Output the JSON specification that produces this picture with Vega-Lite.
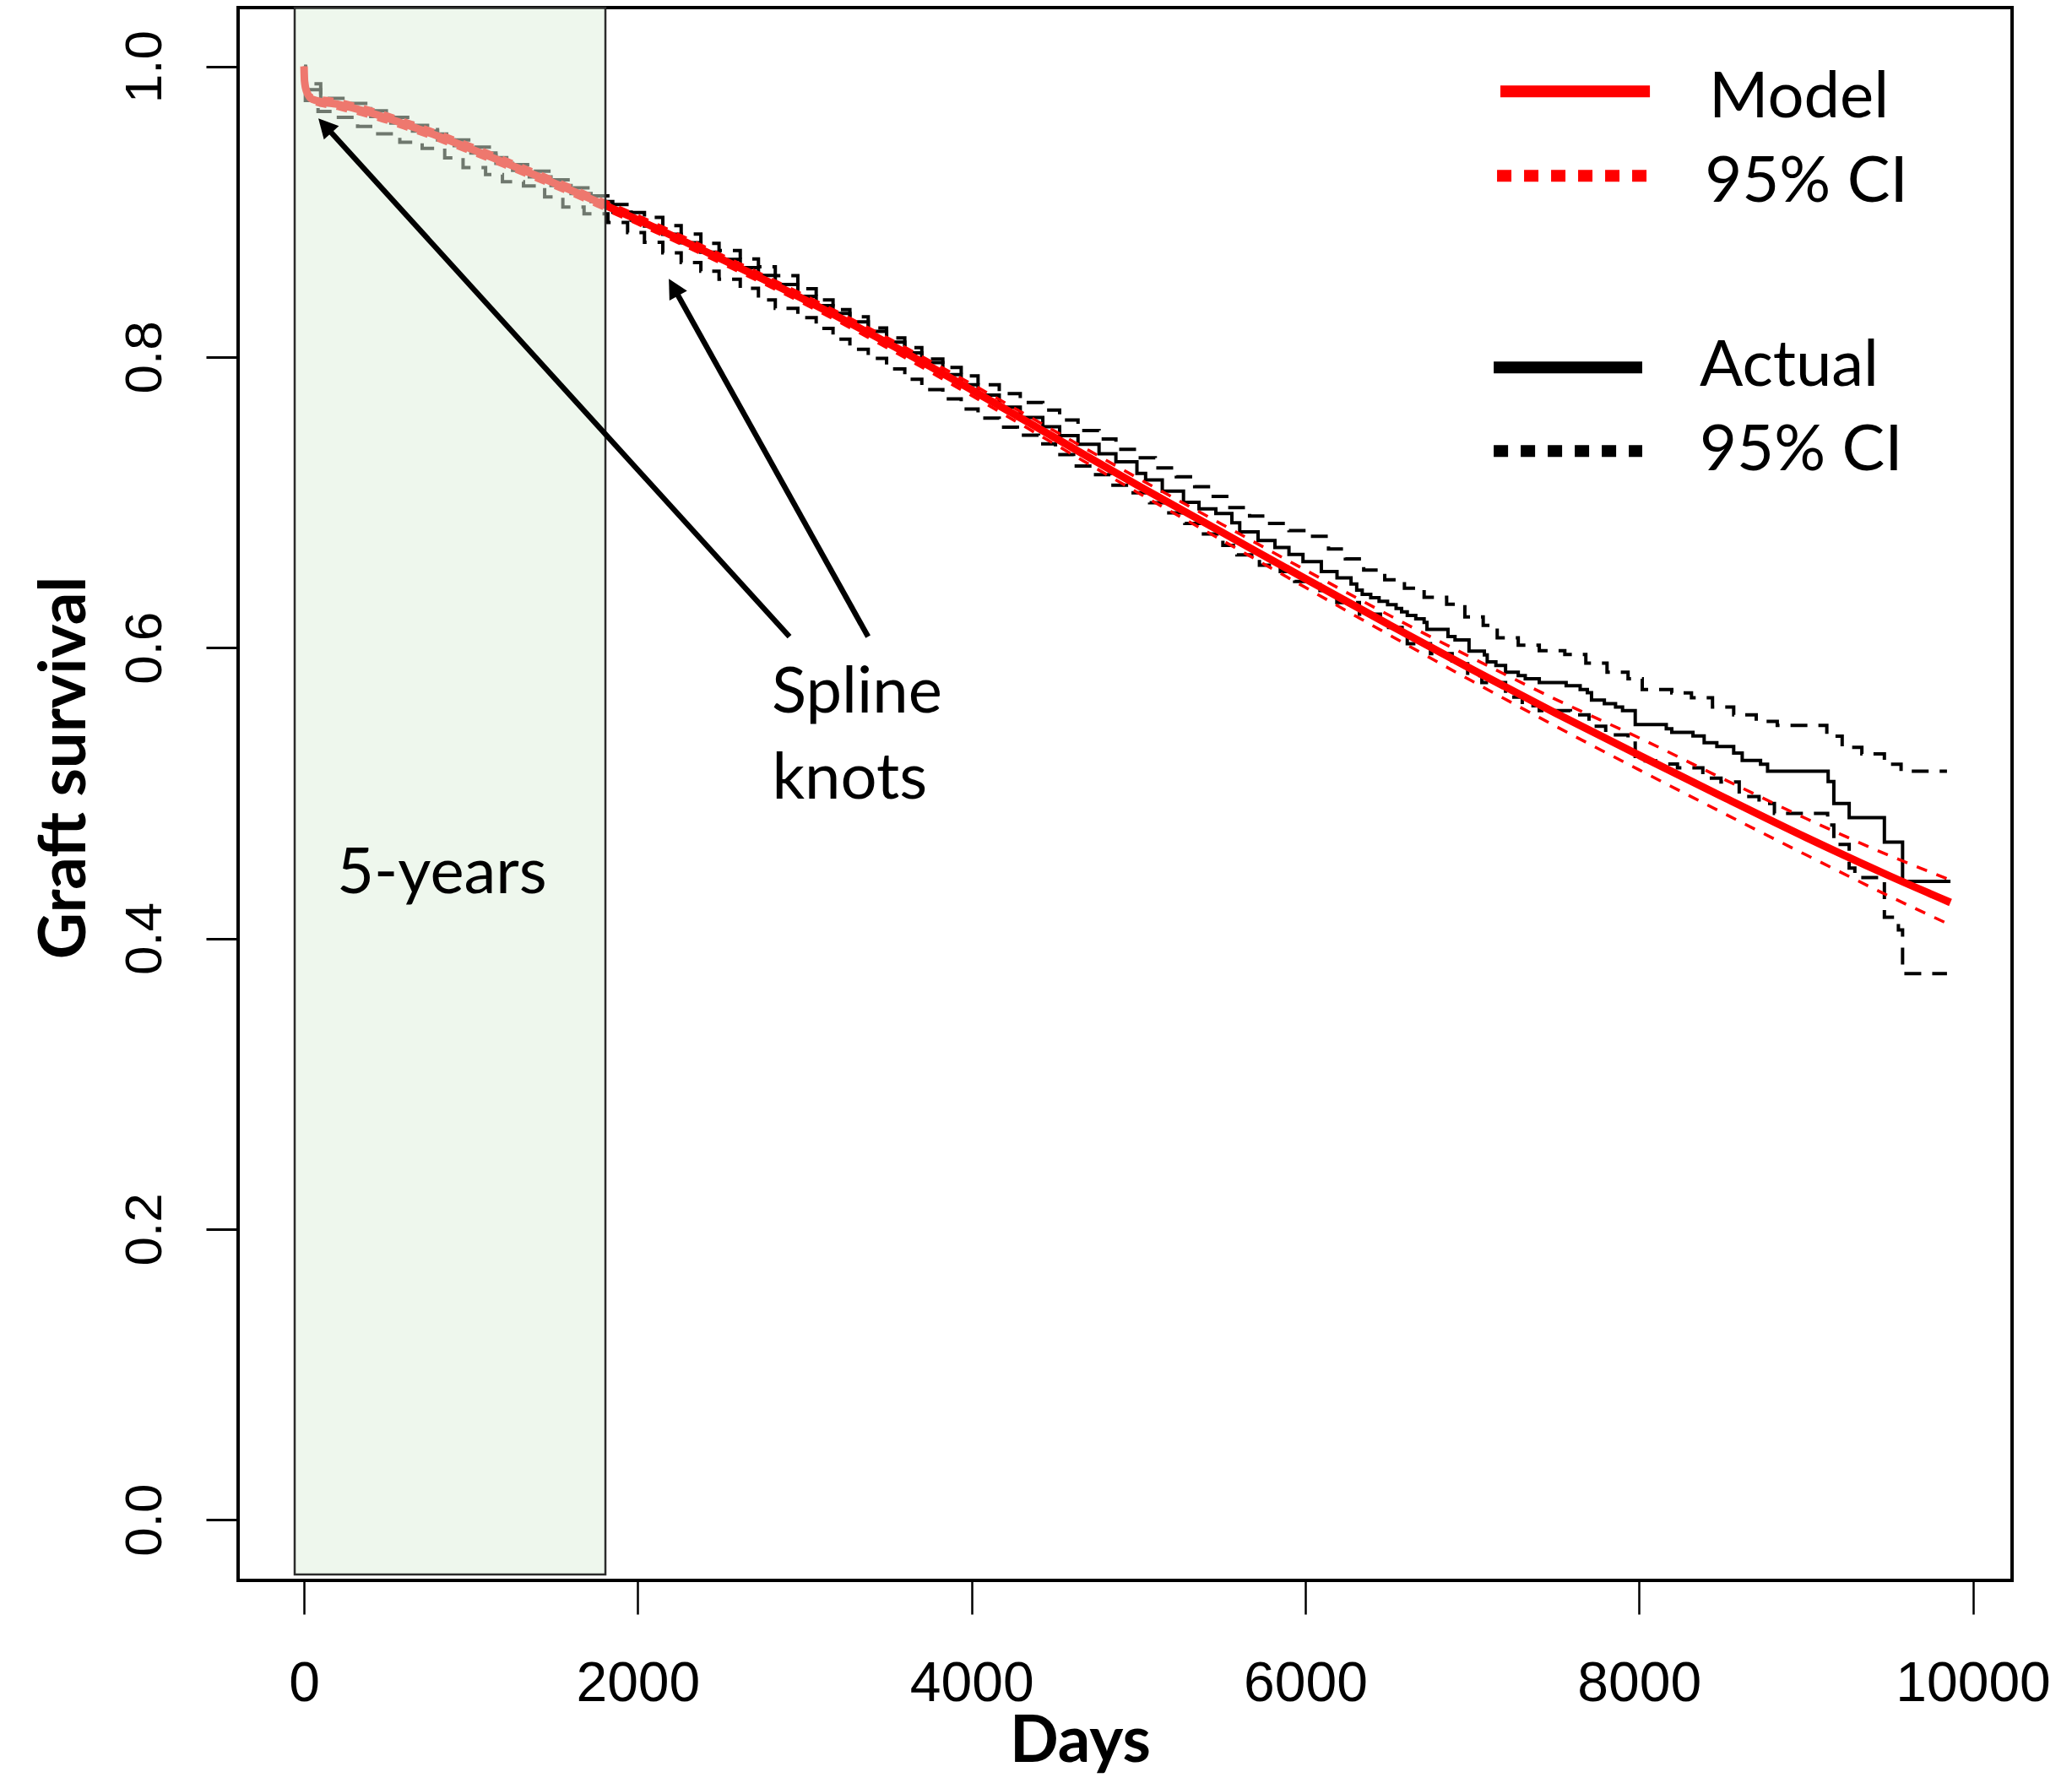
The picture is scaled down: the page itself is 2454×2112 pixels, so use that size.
{
  "$schema": "https://vega.github.io/schema/vega-lite/v6.json",
  "width": 2101,
  "height": 1863,
  "autosize": {"type": "none"},
  "padding": {"left": 282, "top": 9, "right": 71, "bottom": 240},
  "background": "white",
  "config": {
    "view": {"stroke": "#000000", "strokeWidth": 4},
    "axis": {"grid": false, "domain": false, "tickColor": "#000000", "labelColor": "#000000", "titleColor": "#000000"}
  },
  "datasets": {
    "model": [
      {"t": 0, "est": 1.0, "lo": 1.0, "hi": 1.0},
      {"t": 3, "est": 0.99, "lo": 0.988, "hi": 0.992},
      {"t": 15, "est": 0.983, "lo": 0.981, "hi": 0.985},
      {"t": 50, "est": 0.9774, "lo": 0.975, "hi": 0.98},
      {"t": 200, "est": 0.974, "lo": 0.971, "hi": 0.977},
      {"t": 400, "est": 0.968, "lo": 0.965, "hi": 0.971},
      {"t": 600, "est": 0.9605, "lo": 0.9575, "hi": 0.9635},
      {"t": 800, "est": 0.9522, "lo": 0.9492, "hi": 0.9552},
      {"t": 1000, "est": 0.9433, "lo": 0.9403, "hi": 0.9463},
      {"t": 1200, "est": 0.934, "lo": 0.931, "hi": 0.937},
      {"t": 1400, "est": 0.9245, "lo": 0.9215, "hi": 0.9275},
      {"t": 1600, "est": 0.9148, "lo": 0.9118, "hi": 0.9178},
      {"t": 1800, "est": 0.9047, "lo": 0.9017, "hi": 0.9077},
      {"t": 2000, "est": 0.8945, "lo": 0.8915, "hi": 0.8975},
      {"t": 2500, "est": 0.8675, "lo": 0.8645, "hi": 0.8705},
      {"t": 3000, "est": 0.8395, "lo": 0.8365, "hi": 0.8425},
      {"t": 3500, "est": 0.8095, "lo": 0.806, "hi": 0.813},
      {"t": 4000, "est": 0.7775, "lo": 0.7735, "hi": 0.7815},
      {"t": 4500, "est": 0.7445, "lo": 0.74, "hi": 0.749},
      {"t": 5000, "est": 0.7115, "lo": 0.7065, "hi": 0.7165},
      {"t": 5500, "est": 0.6795, "lo": 0.674, "hi": 0.685},
      {"t": 6000, "est": 0.6475, "lo": 0.6415, "hi": 0.6535},
      {"t": 6500, "est": 0.616, "lo": 0.609, "hi": 0.6225},
      {"t": 7000, "est": 0.585, "lo": 0.577, "hi": 0.593},
      {"t": 7500, "est": 0.555, "lo": 0.546, "hi": 0.5645},
      {"t": 8000, "est": 0.526, "lo": 0.516, "hi": 0.538},
      {"t": 8500, "est": 0.4975, "lo": 0.4865, "hi": 0.51},
      {"t": 9000, "est": 0.4695, "lo": 0.4575, "hi": 0.4825},
      {"t": 9500, "est": 0.443, "lo": 0.429, "hi": 0.457},
      {"t": 9866, "est": 0.4247, "lo": 0.4092, "hi": 0.4402}
    ],
    "km_est": [
      {"t": 0, "s": 1.0}, {"t": 8, "s": 0.984}, {"t": 100, "s": 0.9735}, {"t": 250, "s": 0.971},
      {"t": 400, "s": 0.9655}, {"t": 520, "s": 0.961}, {"t": 650, "s": 0.9555}, {"t": 800, "s": 0.9495},
      {"t": 900, "s": 0.9455}, {"t": 1000, "s": 0.9405}, {"t": 1150, "s": 0.9333}, {"t": 1250, "s": 0.9285},
      {"t": 1350, "s": 0.924}, {"t": 1480, "s": 0.918}, {"t": 1600, "s": 0.9125}, {"t": 1720, "s": 0.907},
      {"t": 1850, "s": 0.8997}, {"t": 1960, "s": 0.8942}, {"t": 2040, "s": 0.8902}, {"t": 2150, "s": 0.8845},
      {"t": 2260, "s": 0.8787}, {"t": 2378, "s": 0.8722}, {"t": 2487, "s": 0.8673}, {"t": 2614, "s": 0.8615},
      {"t": 2723, "s": 0.8562}, {"t": 2824, "s": 0.85}, {"t": 2959, "s": 0.8418}, {"t": 3069, "s": 0.8354},
      {"t": 3170, "s": 0.83}, {"t": 3271, "s": 0.8243}, {"t": 3381, "s": 0.8177}, {"t": 3491, "s": 0.8103},
      {"t": 3600, "s": 0.8029}, {"t": 3702, "s": 0.7962}, {"t": 3828, "s": 0.788}, {"t": 3938, "s": 0.7809},
      {"t": 4039, "s": 0.7739}, {"t": 4166, "s": 0.7655}, {"t": 4292, "s": 0.7585}, {"t": 4427, "s": 0.752},
      {"t": 4528, "s": 0.746}, {"t": 4638, "s": 0.74}, {"t": 4764, "s": 0.7335}, {"t": 4865, "s": 0.728},
      {"t": 4991, "s": 0.72}, {"t": 5043, "s": 0.7155}, {"t": 5143, "s": 0.7077}, {"t": 5270, "s": 0.7001},
      {"t": 5363, "s": 0.6955}, {"t": 5464, "s": 0.6923}, {"t": 5560, "s": 0.686}, {"t": 5607, "s": 0.6797},
      {"t": 5717, "s": 0.6738}, {"t": 5818, "s": 0.669}, {"t": 5902, "s": 0.6642}, {"t": 5986, "s": 0.6593},
      {"t": 6096, "s": 0.6525}, {"t": 6190, "s": 0.648}, {"t": 6274, "s": 0.6438}, {"t": 6308, "s": 0.6396},
      {"t": 6341, "s": 0.6367}, {"t": 6392, "s": 0.6344}, {"t": 6442, "s": 0.6319}, {"t": 6493, "s": 0.6296},
      {"t": 6544, "s": 0.627}, {"t": 6577, "s": 0.6247}, {"t": 6611, "s": 0.6222}, {"t": 6662, "s": 0.6199},
      {"t": 6712, "s": 0.6174}, {"t": 6729, "s": 0.6126}, {"t": 6855, "s": 0.6077}, {"t": 6897, "s": 0.6054},
      {"t": 6981, "s": 0.5977}, {"t": 7073, "s": 0.5951}, {"t": 7090, "s": 0.5903}, {"t": 7142, "s": 0.5878},
      {"t": 7200, "s": 0.5832}, {"t": 7276, "s": 0.5809}, {"t": 7318, "s": 0.5786}, {"t": 7402, "s": 0.5761},
      {"t": 7563, "s": 0.5738}, {"t": 7647, "s": 0.5713}, {"t": 7690, "s": 0.569}, {"t": 7715, "s": 0.564},
      {"t": 7792, "s": 0.5615}, {"t": 7859, "s": 0.5592}, {"t": 7901, "s": 0.5567}, {"t": 7977, "s": 0.5471},
      {"t": 8163, "s": 0.5442}, {"t": 8196, "s": 0.5418}, {"t": 8323, "s": 0.5393}, {"t": 8390, "s": 0.5346},
      {"t": 8466, "s": 0.5321}, {"t": 8567, "s": 0.5275}, {"t": 8618, "s": 0.5224}, {"t": 8728, "s": 0.5199},
      {"t": 8770, "s": 0.515}, {"t": 9133, "s": 0.5079}, {"t": 9167, "s": 0.4928}, {"t": 9259, "s": 0.4831},
      {"t": 9470, "s": 0.4663}, {"t": 9579, "s": 0.4392}, {"t": 9866, "s": 0.4392}
    ],
    "km_hi": [
      {"t": 0, "s": 1.0}, {"t": 8, "s": 0.988}, {"t": 100, "s": 0.978}, {"t": 250, "s": 0.9745},
      {"t": 400, "s": 0.9695}, {"t": 520, "s": 0.965}, {"t": 650, "s": 0.9595}, {"t": 800, "s": 0.9535},
      {"t": 900, "s": 0.9495}, {"t": 1000, "s": 0.9445}, {"t": 1150, "s": 0.9373}, {"t": 1250, "s": 0.9325},
      {"t": 1350, "s": 0.928}, {"t": 1480, "s": 0.922}, {"t": 1600, "s": 0.9165}, {"t": 1720, "s": 0.911},
      {"t": 1850, "s": 0.905}, {"t": 1960, "s": 0.8995}, {"t": 2040, "s": 0.8962}, {"t": 2150, "s": 0.8905},
      {"t": 2260, "s": 0.8847}, {"t": 2378, "s": 0.8782}, {"t": 2487, "s": 0.8733}, {"t": 2614, "s": 0.8675},
      {"t": 2723, "s": 0.8622}, {"t": 2824, "s": 0.856}, {"t": 2959, "s": 0.8471}, {"t": 3069, "s": 0.8394},
      {"t": 3170, "s": 0.8326}, {"t": 3271, "s": 0.8278}, {"t": 3381, "s": 0.82}, {"t": 3491, "s": 0.8132},
      {"t": 3600, "s": 0.8065}, {"t": 3702, "s": 0.7987}, {"t": 3828, "s": 0.7929}, {"t": 3938, "s": 0.7871},
      {"t": 4039, "s": 0.7809}, {"t": 4166, "s": 0.7748}, {"t": 4292, "s": 0.7687}, {"t": 4427, "s": 0.7636},
      {"t": 4528, "s": 0.7567}, {"t": 4638, "s": 0.7494}, {"t": 4764, "s": 0.7436}, {"t": 4865, "s": 0.7365},
      {"t": 4991, "s": 0.7307}, {"t": 5101, "s": 0.7237}, {"t": 5227, "s": 0.7176}, {"t": 5337, "s": 0.7108},
      {"t": 5438, "s": 0.7042}, {"t": 5548, "s": 0.6964}, {"t": 5666, "s": 0.6906}, {"t": 5776, "s": 0.6855},
      {"t": 5902, "s": 0.6806}, {"t": 6029, "s": 0.6767}, {"t": 6139, "s": 0.668}, {"t": 6240, "s": 0.6612},
      {"t": 6350, "s": 0.6535}, {"t": 6476, "s": 0.6467}, {"t": 6594, "s": 0.6409}, {"t": 6712, "s": 0.6347},
      {"t": 6847, "s": 0.6299}, {"t": 6956, "s": 0.6212}, {"t": 7066, "s": 0.6154}, {"t": 7150, "s": 0.6068},
      {"t": 7276, "s": 0.6018}, {"t": 7402, "s": 0.5979}, {"t": 7555, "s": 0.5954}, {"t": 7681, "s": 0.5894},
      {"t": 7808, "s": 0.5832}, {"t": 7934, "s": 0.5786}, {"t": 8019, "s": 0.5712}, {"t": 8196, "s": 0.5689},
      {"t": 8314, "s": 0.5656}, {"t": 8440, "s": 0.5592}, {"t": 8567, "s": 0.5538}, {"t": 8702, "s": 0.5493},
      {"t": 8828, "s": 0.5466}, {"t": 9125, "s": 0.5392}, {"t": 9217, "s": 0.5315}, {"t": 9335, "s": 0.527},
      {"t": 9470, "s": 0.5199}, {"t": 9570, "s": 0.515}, {"t": 9845, "s": 0.515}
    ],
    "km_lo": [
      {"t": 0, "s": 1.0}, {"t": 8, "s": 0.9766}, {"t": 84, "s": 0.969}, {"t": 186, "s": 0.965},
      {"t": 321, "s": 0.9587}, {"t": 422, "s": 0.9537}, {"t": 574, "s": 0.9478}, {"t": 708, "s": 0.9437},
      {"t": 843, "s": 0.9371}, {"t": 953, "s": 0.9304}, {"t": 1088, "s": 0.9256}, {"t": 1189, "s": 0.9207},
      {"t": 1315, "s": 0.9178}, {"t": 1442, "s": 0.9102}, {"t": 1551, "s": 0.9033}, {"t": 1678, "s": 0.8986},
      {"t": 1821, "s": 0.8926}, {"t": 1939, "s": 0.8857}, {"t": 2040, "s": 0.879}, {"t": 2150, "s": 0.8717},
      {"t": 2260, "s": 0.865}, {"t": 2378, "s": 0.8591}, {"t": 2487, "s": 0.8536}, {"t": 2614, "s": 0.8474},
      {"t": 2723, "s": 0.8393}, {"t": 2824, "s": 0.8335}, {"t": 2959, "s": 0.8272}, {"t": 3069, "s": 0.8198},
      {"t": 3170, "s": 0.8124}, {"t": 3271, "s": 0.8053}, {"t": 3381, "s": 0.7991}, {"t": 3491, "s": 0.7918},
      {"t": 3600, "s": 0.7847}, {"t": 3702, "s": 0.7776}, {"t": 3828, "s": 0.7712}, {"t": 3938, "s": 0.7643},
      {"t": 4039, "s": 0.758}, {"t": 4166, "s": 0.7517}, {"t": 4275, "s": 0.7462}, {"t": 4402, "s": 0.7403},
      {"t": 4503, "s": 0.7329}, {"t": 4612, "s": 0.725}, {"t": 4722, "s": 0.7191}, {"t": 4832, "s": 0.7119},
      {"t": 4958, "s": 0.7066}, {"t": 5067, "s": 0.6998}, {"t": 5168, "s": 0.6928}, {"t": 5278, "s": 0.6855},
      {"t": 5379, "s": 0.6783}, {"t": 5506, "s": 0.6704}, {"t": 5590, "s": 0.6639}, {"t": 5725, "s": 0.6568},
      {"t": 5850, "s": 0.6525}, {"t": 5936, "s": 0.6456}, {"t": 6088, "s": 0.6393}, {"t": 6189, "s": 0.6311},
      {"t": 6324, "s": 0.6231}, {"t": 6450, "s": 0.614}, {"t": 6611, "s": 0.6028}, {"t": 6750, "s": 0.596},
      {"t": 6880, "s": 0.589}, {"t": 6973, "s": 0.5809}, {"t": 7058, "s": 0.5761}, {"t": 7200, "s": 0.566},
      {"t": 7300, "s": 0.56}, {"t": 7402, "s": 0.5567}, {"t": 7589, "s": 0.5538}, {"t": 7700, "s": 0.546},
      {"t": 7800, "s": 0.54}, {"t": 7934, "s": 0.5344}, {"t": 7977, "s": 0.5222}, {"t": 8100, "s": 0.52},
      {"t": 8230, "s": 0.5174}, {"t": 8382, "s": 0.5102}, {"t": 8491, "s": 0.5077}, {"t": 8600, "s": 0.4976},
      {"t": 8719, "s": 0.4928}, {"t": 8811, "s": 0.486}, {"t": 9130, "s": 0.478}, {"t": 9167, "s": 0.4646},
      {"t": 9259, "s": 0.4484}, {"t": 9293, "s": 0.4419}, {"t": 9470, "s": 0.4145}, {"t": 9554, "s": 0.4058},
      {"t": 9579, "s": 0.3757}, {"t": 9845, "s": 0.3757}
    ],
    "band": [{"t1": -56, "t2": 1806, "v1": -0.0378, "v2": 1.0405}],
    "arrows": [
      {"name": "a1", "x0": 2909, "y0": 0.6076, "xs": 120, "ys": 0.96, "xt": 86, "yt": 0.9643},
      {"name": "a2", "x0": 3380, "y0": 0.6076, "xs": 2210, "ys": 0.8489, "xt": 2186, "yt": 0.8539}
    ],
    "notes": [
      {"label": "Spline", "x": 2803, "y": 0.5553},
      {"label": "knots", "x": 2805, "y": 0.4961},
      {"label": "5-years", "x": 197, "y": 0.431}
    ],
    "legend": [
      {"item": "Model", "x1": 7169, "x2": 8065, "y": 0.9828},
      {"item": "Model 95% CI", "x1": 7149, "x2": 8050, "y": 0.9248},
      {"item": "Actual", "x1": 7129, "x2": 8019, "y": 0.7929},
      {"item": "Actual 95% CI", "x1": 7129, "x2": 8019, "y": 0.7353}
    ],
    "legtext": [
      {"label": "Model", "x": 8419, "y": 0.9649},
      {"label": "95% CI", "x": 8394, "y": 0.9067},
      {"label": "Actual", "x": 8363, "y": 0.7801},
      {"label": "95% CI", "x": 8363, "y": 0.7221}
    ]
  },
  "layer": [
    {
      "data": {"name": "km_lo"},
      "mark": {"type": "line", "interpolate": "step-after", "color": "#000000", "strokeWidth": 4, "strokeDash": [20, 13]},
      "encoding": {
        "x": {"field": "t", "type": "quantitative", "title": "Days",
          "scale": {"domain": [-395, 10235], "nice": false, "zero": false},
          "axis": {"values": [0, 2000, 4000, 6000, 8000, 10000], "format": "d", "tickSize": 40, "tickWidth": 2.5,
            "labelFont": "Liberation Sans", "labelFontSize": 66, "labelPadding": 50, "labelFlush": false, "labelOverlap": false, "labelBaseline": "top", "labelLimit": 500,
            "titleFont": "Lato", "titleFontSize": 76, "titleFontWeight": "bold", "titleX": 997, "titleY": 214, "titleBaseline": "alphabetic", "titleAlign": "center"}},
        "y": {"field": "s", "type": "quantitative", "title": "Graft survival",
          "scale": {"domain": [-0.0418, 1.0405], "nice": false, "zero": false},
          "axis": {"values": [0, 0.2, 0.4, 0.6, 0.8, 1], "format": ".1f", "tickSize": 38, "tickWidth": 3,
            "labelFont": "Liberation Sans", "labelFontSize": 62, "labelAngle": 270, "labelAlign": "center", "labelBaseline": "alphabetic", "labelPadding": 54, "labelFlush": false, "labelOverlap": false, "labelLimit": 500,
            "titleFont": "Lato", "titleFontSize": 76, "titleFontWeight": "bold", "titleAngle": 270, "titleX": -182, "titleY": 900, "titleBaseline": "alphabetic", "titleAlign": "center"}}
      }
    },
    {
      "data": {"name": "km_hi"},
      "mark": {"type": "line", "interpolate": "step-after", "color": "#000000", "strokeWidth": 4, "strokeDash": [20, 13]},
      "encoding": {
        "x": {"field": "t", "type": "quantitative", "title": "Days"},
        "y": {"field": "s", "type": "quantitative", "title": "Graft survival"}
      }
    },
    {
      "data": {"name": "km_est"},
      "mark": {"type": "line", "interpolate": "step-after", "color": "#000000", "strokeWidth": 4},
      "encoding": {
        "x": {"field": "t", "type": "quantitative", "title": "Days"},
        "y": {"field": "s", "type": "quantitative", "title": "Graft survival"}
      }
    },
    {
      "data": {"name": "model"},
      "mark": {"type": "line", "interpolate": "monotone", "color": "#FF0000", "strokeWidth": 9},
      "encoding": {
        "x": {"field": "t", "type": "quantitative", "title": "Days"},
        "y": {"field": "est", "type": "quantitative", "title": "Graft survival"}
      }
    },
    {
      "data": {"name": "model"},
      "mark": {"type": "line", "interpolate": "monotone", "color": "#FF0000", "strokeWidth": 3.5, "strokeDash": [13, 12]},
      "encoding": {
        "x": {"field": "t", "type": "quantitative", "title": "Days"},
        "y": {"field": "lo", "type": "quantitative", "title": "Graft survival"}
      }
    },
    {
      "data": {"name": "model"},
      "mark": {"type": "line", "interpolate": "monotone", "color": "#FF0000", "strokeWidth": 3.5, "strokeDash": [13, 12]},
      "encoding": {
        "x": {"field": "t", "type": "quantitative", "title": "Days"},
        "y": {"field": "hi", "type": "quantitative", "title": "Graft survival"}
      }
    },
    {
      "data": {"name": "band"},
      "mark": {"type": "rect", "fill": "#DEF0DC", "fillOpacity": 0.5, "stroke": "#2b2b2b", "strokeWidth": 2.5},
      "encoding": {
        "x": {"field": "t1", "type": "quantitative", "title": "Days"},
        "x2": {"field": "t2"},
        "y": {"field": "v1", "type": "quantitative", "title": "Graft survival"},
        "y2": {"field": "v2"}
      }
    },
    {
      "data": {"name": "arrows"},
      "mark": {"type": "rule", "color": "#000000", "strokeWidth": 6.5, "strokeCap": "butt"},
      "encoding": {
        "x": {"field": "x0", "type": "quantitative", "title": "Days"},
        "y": {"field": "y0", "type": "quantitative", "title": "Graft survival"},
        "x2": {"field": "xs"},
        "y2": {"field": "ys"}
      }
    },
    {
      "data": {"name": "arrows"},
      "transform": [{"filter": "datum.name === 'a1'"}],
      "mark": {"type": "point", "shape": "M0,0L-0.52,1L0.52,1Z", "filled": true, "size": 2116, "angle": 317.8, "color": "#000000", "opacity": 1, "strokeWidth": 0},
      "encoding": {
        "x": {"field": "xt", "type": "quantitative", "title": "Days"},
        "y": {"field": "yt", "type": "quantitative", "title": "Graft survival"}
      }
    },
    {
      "data": {"name": "arrows"},
      "transform": [{"filter": "datum.name === 'a2'"}],
      "mark": {"type": "point", "shape": "M0,0L-0.52,1L0.52,1Z", "filled": true, "size": 2116, "angle": 330.9, "color": "#000000", "opacity": 1, "strokeWidth": 0},
      "encoding": {
        "x": {"field": "xt", "type": "quantitative", "title": "Days"},
        "y": {"field": "yt", "type": "quantitative", "title": "Graft survival"}
      }
    },
    {
      "data": {"name": "notes"},
      "mark": {"type": "text", "align": "left", "baseline": "alphabetic", "font": "Lato", "fontSize": 76, "color": "#000000"},
      "encoding": {
        "x": {"field": "x", "type": "quantitative", "title": "Days"},
        "y": {"field": "y", "type": "quantitative", "title": "Graft survival"},
        "text": {"field": "label"}
      }
    },
    {
      "data": {"name": "legend"},
      "mark": {"type": "rule", "strokeWidth": 14, "strokeCap": "butt"},
      "encoding": {
        "x": {"field": "x1", "type": "quantitative", "title": "Days"},
        "x2": {"field": "x2"},
        "y": {"field": "y", "type": "quantitative", "title": "Graft survival"},
        "color": {"field": "item", "type": "nominal", "legend": null,
          "scale": {"domain": ["Model", "Model 95% CI", "Actual", "Actual 95% CI"], "range": ["#FF0000", "#FF0000", "#000000", "#000000"]}},
        "strokeDash": {"field": "item", "type": "nominal", "legend": null,
          "scale": {"domain": ["Model", "Model 95% CI", "Actual", "Actual 95% CI"], "range": [[1, 0], [17, 15], [1, 0], [17, 15]]}}
      }
    },
    {
      "data": {"name": "legtext"},
      "mark": {"type": "text", "align": "left", "baseline": "alphabetic", "font": "Lato", "fontSize": 76, "color": "#000000"},
      "encoding": {
        "x": {"field": "x", "type": "quantitative", "title": "Days"},
        "y": {"field": "y", "type": "quantitative", "title": "Graft survival"},
        "text": {"field": "label"}
      }
    }
  ]
}
